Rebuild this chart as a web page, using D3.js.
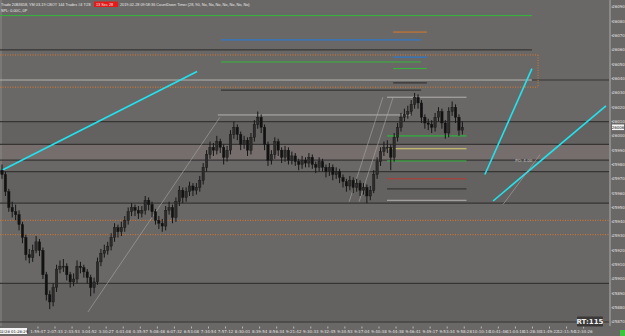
<!DOCTYPE html>
<html>
<head>
<meta charset="utf-8">
<script src="https://cdn.jsdelivr.net/npm/d3@7"></script>
<style>
    body { margin: 0; background: #6a6866; overflow: hidden; }
    svg { display: block; font-family: "DejaVu Sans", sans-serif; }
</style>
</head>
<body>
<script>
// bar data (144 tick bars), open of each bar = previous close
const firstOpen = 25976;
const closes = [25973, 25961, 25950, 25947, 25945, 25938, 25929, 25917, 25915, 25920,
    25926, 25920, 25903, 25889, 25884, 25894, 25907, 25909, 25909, 25903,
    25898, 25900, 25909, 25908, 25905, 25901, 25894, 25898, 25912, 25918,
    25920, 25923, 25929, 25936, 25933, 25936, 25941, 25947, 25950, 25948,
    25946, 25948, 25955, 25952, 25947, 25941, 25939, 25937, 25948, 25950,
    25943, 25954, 25962, 25957, 25961, 25965, 25962, 25964, 25969, 25978,
    25987, 25992, 25990, 25996, 25992, 25985, 25990, 26001, 26006, 26001,
    25994, 25997, 25990, 25999, 26008, 26013, 26006, 25994, 25983, 25987,
    25996, 25990, 25985, 25990, 25983, 25986, 25982, 25980, 25983, 25981,
    25985, 25980, 25978, 25982, 25978, 25975, 25978, 25973, 25975, 25971,
    25968, 25965, 25969, 25964, 25967, 25962, 25964, 25958, 25962, 25973,
    25982, 25989, 25992, 25992, 25985, 25999, 26006, 26013, 26015, 26017,
    26022, 26027, 26023, 26013, 26009, 26008, 26006, 26013, 26017, 26009,
    26002, 26017, 26020, 26013, 26004, 26006];
const highs = [25980, 25975, 25963, 25954, 25952, 25948, 25940, 25931, 25921, 25924,
    25930, 25928, 25922, 25905, 25892, 25897, 25910, 25913, 25914, 25911,
    25905, 25904, 25913, 25912, 25910, 25907, 25903, 25901, 25915, 25921,
    25924, 25926, 25932, 25939, 25938, 25940, 25944, 25950, 25953, 25952,
    25951, 25951, 25958, 25957, 25954, 25949, 25944, 25942, 25951, 25954,
    25952, 25957, 25965, 25964, 25964, 25968, 25967, 25967, 25972, 25981,
    25990, 25996, 25995, 26000, 25998, 25994, 25993, 26004, 26010, 26008,
    26003, 26000, 25999, 26002, 26011, 26017, 26015, 26008, 25996, 25990,
    25999, 25998, 25992, 25993, 25992, 25989, 25988, 25984, 25986, 25985,
    25988, 25987, 25982, 25985, 25984, 25980, 25981, 25980, 25978, 25977,
    25973, 25970, 25972, 25971, 25970, 25969, 25967, 25966, 25965, 25976,
    25985, 25992, 25996, 25997, 25994, 26002, 26009, 26016, 26019, 26021,
    26025, 26030, 26029, 26025, 26015, 26012, 26011, 26016, 26020, 26019,
    26011, 26020, 26024, 26022, 26015, 26010];
const lows = [25970, 25958, 25947, 25943, 25941, 25934, 25925, 25913, 25911, 25912,
    25918, 25916, 25900, 25885, 25879, 25881, 25891, 25904, 25905, 25899,
    25894, 25895, 25897, 25904, 25901, 25897, 25888, 25890, 25896, 25909,
    25915, 25917, 25920, 25926, 25929, 25930, 25933, 25938, 25944, 25944,
    25942, 25943, 25945, 25948, 25943, 25938, 25935, 25933, 25934, 25945,
    25939, 25940, 25951, 25953, 25954, 25958, 25958, 25959, 25961, 25966,
    25975, 25984, 25986, 25987, 25988, 25980, 25982, 25987, 25998, 25997,
    25990, 25991, 25986, 25987, 25996, 26005, 26002, 25990, 25979, 25980,
    25984, 25986, 25981, 25982, 25980, 25980, 25979, 25976, 25977, 25978,
    25978, 25977, 25974, 25975, 25975, 25971, 25972, 25969, 25970, 25967,
    25964, 25961, 25962, 25960, 25961, 25958, 25959, 25953, 25955, 25960,
    25970, 25979, 25986, 25988, 25976, 25982, 25996, 26003, 26010, 26012,
    26014, 26019, 26019, 26009, 26005, 26004, 26002, 26003, 26010, 26005,
    25998, 25999, 26014, 26009, 26000, 26001];

const priceTicks = [26090, 26080, 26070, 26060, 26050, 26040, 26030, 26020, 26010, 26000,
    25990, 25980, 25970, 25960, 25950, 25940, 25930, 25920, 25910, 25900,
    25890, 25880, 25870];
const timeLabels = ["1:59:47", "2:07:33", "2:33:53", "3:04:52", "3:30:27", "4:01:08", "4:35:57",
    "5:08:48", "6:07:32", "6:53:08", "7:34:54", "7:57:12", "8:30:01", "8:39:54", "8:56:34",
    "9:21:42", "9:30:33", "9:32:45", "9:34:53", "9:37:04", "9:40:38", "9:44:38", "9:46:41",
    "9:49:17", "9:53:34", "9:58:28", "10:10:14", "10:41:46", "11:04:18", "11:28:30",
    "11:49:22", "12:11:54", "12:34:26"];
const firstLabelBar = 10.55;
const barsPerLabel = 5;

// horizontal levels: [kind, price, fromBar, toBar]
const levels = [
    ["green", 26084, 0, 155.4],
    ["dark", 26060, 0, 155.4],
    ["orange", 26072.5, 114.7, 124.6],
    ["blue", 26067, 64.2, 122.9],
    ["blue", 26055, 114.7, 124.6],
    ["green", 26051.6, 64.2, 122.9],
    ["green", 26047, 114.7, 124.6],
    ["light", 26039, 0, 155.4],
    ["dark", 26039, 155.4, 178],
    ["dark", 26037, 114.7, 124.6],
    ["dark", 26032, 64.2, 122.9],
    ["light", 26027, 112.9, 136.2],
    ["light", 26014.6, 63.3, 120.2],
    ["dark", 26010, 0, 178],
    ["green2", 26000, 112.9, 136.2],
    ["dark", 25994, 0, 178],
    ["yellow", 25991, 112.9, 136.2],
    ["dark", 25983, 0, 178],
    ["green", 25982.5, 112.9, 136.2],
    ["dark", 25975, 0, 178],
    ["red", 25970, 112.9, 136.2],
    ["dark", 25963, 112.9, 136.2],
    ["light", 25955, 112.9, 136.2],
    ["dark", 25953, 0, 178],
    ["dark", 25897, 0, 178],
    ["dark", 25870, 0, 178]
];
const dottedLevels = [26056.5, 26034, 25941, 25931];
const dottedEnds = [157.2, 157.2, 178, 178];

// zones: [top price, bottom price, kind]
const zones = [
    [26010, 25994, "dim"],
    [25994, 25983, "pink"],
    [25975, 25953, "dim"],
    [25897, 25870, "dim"]
];

// drawn lines: [kind, bar0, price0, bar1, price1]
const trendLines = [
    ["cyan", 0, 25976, 57.2, 26045],
    ["cyan", 141.6, 25973, 155.4, 26047],
    ["cyan", 144, 25954.5, 177.1, 26021],
    ["thin", 146.9, 25952, 157.8, 25987],
    ["thin", 25.2, 25877, 63.9, 26013],
    ["thin", 101.8, 25954, 111.7, 26027],
    ["thin", 104.7, 25954, 114.7, 26027]
];
const lastPrice = 26006;

const levelStyle = {
    green: { c: "#33b83a", w: 1 },
    green2: { c: "#3f9a48", w: 1.6 },
    dark: { c: "#363534", w: 1.2 },
    light: { c: "#b4b2b0", w: 1 },
    orange: { c: "#d9782a", w: 1 },
    blue: { c: "#2f78c8", w: 1.2 },
    yellow: { c: "#d8d070", w: 1 },
    red: { c: "#b83a30", w: 1 }
};
const zoneFill = { dim: "#646260", pink: "#756e6d" };

const W = 625, H = 336;
const svg = d3.select("body").append("svg").attr("width", W).attr("height", H);

const x = d3.scaleLinear().domain([0, 178]).range([2, 609]);
const y = d3.scaleLinear().domain([25870, 26090]).range([322, 7]);

svg.append("rect").attr("width", W).attr("height", H).attr("fill", "#6a6866");

const plot = svg.append("g");
plot.append("clipPath").attr("id", "clip")
    .append("rect").attr("x", 0).attr("y", 0).attr("width", 609).attr("height", 326);
const g = plot.append("g").attr("clip-path", "url(#clip)");

g.selectAll(".zone").data(zones).enter().append("rect")
    .attr("x", x(0) - 2).attr("width", x(178) - x(0) + 2)
    .attr("y", d => y(d[0])).attr("height", d => y(d[1]) - y(d[0]))
    .attr("fill", d => zoneFill[d[2]]);

// left border
g.append("line").attr("x1", 1).attr("x2", 1).attr("y1", 0).attr("y2", 326)
    .attr("stroke", "#8a8886").attr("stroke-width", 1);

g.selectAll(".lvl").data(levels).enter().append("line")
    .attr("x1", d => d[2] === 0 ? 0 : x(d[2])).attr("x2", d => x(d[3]))
    .attr("y1", d => y(d[1])).attr("y2", d => y(d[1]))
    .attr("stroke", d => levelStyle[d[0]].c)
    .attr("stroke-width", d => levelStyle[d[0]].w);

g.selectAll(".dot").data(dottedLevels).enter().append("line")
    .attr("x1", 0).attr("x2", (d, i) => x(dottedEnds[i]))
    .attr("y1", d => y(d)).attr("y2", d => y(d))
    .attr("stroke", "#d9782a").attr("stroke-width", 1).attr("stroke-dasharray", "1,1.5");
g.append("line")
    .attr("x1", x(dottedEnds[0])).attr("x2", x(dottedEnds[0]))
    .attr("y1", y(dottedLevels[0])).attr("y2", y(dottedLevels[1]))
    .attr("stroke", "#d9782a").attr("stroke-width", 1).attr("stroke-dasharray", "1,1.5");

g.selectAll(".trend").data(trendLines).enter().append("line")
    .attr("x1", d => x(d[1])).attr("y1", d => y(d[2]))
    .attr("x2", d => x(d[3])).attr("y2", d => y(d[4]))
    .attr("stroke", d => d[0] === "cyan" ? "#22e2ee" : "#a9a7a5")
    .attr("stroke-width", d => d[0] === "cyan" ? 1.6 : 0.6);

g.append("text").attr("x", x(150.5)).attr("y", y(25983) + 1.5)
    .attr("font-size", 4).attr("fill", "#c8c6c4").text("PO: 4.00");

// candles
const bars = closes.map((c, i) => ({
    i: i,
    o: i === 0 ? firstOpen : closes[i - 1],
    c: c,
    h: highs[i],
    l: lows[i]
}));
const cg = g.append("g");
cg.selectAll(".wick").data(bars).enter().append("line")
    .attr("x1", d => x(d.i)).attr("x2", d => x(d.i))
    .attr("y1", d => y(d.h)).attr("y2", d => y(d.l))
    .attr("stroke", "#161616").attr("stroke-width", 1);
cg.selectAll(".body").data(bars).enter().append("rect")
    .attr("x", d => x(d.i) - 1.2).attr("width", 2.4)
    .attr("y", d => y(Math.max(d.o, d.c)))
    .attr("height", d => Math.max(1, Math.abs(y(d.o) - y(d.c))))
    .attr("fill", d => d.c >= d.o ? "#2e2d2c" : "#121212")
    .attr("stroke", "#161616").attr("stroke-width", 0.4);

// header text
const hdr = svg.append("g").attr("font-size", 3.8).attr("fill", "#e8e8e8")
    .style("font-family", "'Liberation Sans', sans-serif");
hdr.append("text").attr("x", 1).attr("y", 5.5)
    .text("Trade 20B3658, YM 03-19 CBOT 144 Trades #4 T:28");
hdr.append("rect").attr("x", 94).attr("y", 1.5).attr("width", 24).attr("height", 5.5).attr("fill", "#e41a1a");
hdr.append("text").attr("x", 96).attr("y", 5.6).text("13 Sec  28");
hdr.append("text").attr("x", 120).attr("y", 5.5)
    .text("2019-02-28 09:58:36 CountDown Timer  (28, 90, No, No, No, No, No, No, No)");
hdr.append("text").attr("x", 1).attr("y", 11.5).text("SPL: 0.00C, 0P");

// price axis
svg.append("rect").attr("x", 609).attr("y", 0).attr("width", 2).attr("height", 326).attr("fill", "#8c8a88");
const pa = svg.append("g").attr("font-size", 4).attr("fill", "#e0e0e0");
pa.selectAll(".pt").data(priceTicks).enter().append("line")
    .attr("x1", 611.5).attr("x2", 613).attr("y1", d => y(d)).attr("y2", d => y(d))
    .attr("stroke", "#d0d0d0").attr("stroke-width", 0.8);
pa.selectAll(".pl").data(priceTicks).enter().append("text")
    .attr("x", 618.5).attr("y", d => y(d) + 1.4).attr("text-anchor", "middle")
    .text(d => d);
svg.append("rect").attr("x", 612).attr("y", y(lastPrice) - 2.8).attr("width", 12).attr("height", 5.6)
    .attr("fill", "#f4f4f4");
svg.append("text").attr("x", 618).attr("y", y(lastPrice) + 1.4).attr("text-anchor", "middle")
    .attr("font-size", 4).attr("fill", "#222").text(lastPrice);

// time axis
const ta = svg.append("g").attr("font-size", 4).attr("fill", "#e0e0e0");
ta.selectAll(".tt").data(timeLabels).enter().append("line")
    .attr("x1", (d, i) => x(firstLabelBar + i * barsPerLabel))
    .attr("x2", (d, i) => x(firstLabelBar + i * barsPerLabel))
    .attr("y1", 326.5).attr("y2", 328.5).attr("stroke", "#d0d0d0").attr("stroke-width", 0.8);
ta.selectAll(".tl").data(timeLabels).enter().append("text")
    .attr("x", (d, i) => x(firstLabelBar + i * barsPerLabel))
    .attr("y", 332.5).attr("text-anchor", "middle").text(d => d);
svg.append("rect").attr("x", 0).attr("y", 328).attr("width", 27).attr("height", 6).attr("fill", "#f4f4f4");
svg.append("text").attr("x", 13.5).attr("y", 332.5).attr("text-anchor", "middle")
    .attr("font-size", 3.8).attr("fill", "#222").text("02/28 01:28:29");

// RT box
svg.append("rect").attr("x", 577).attr("y", 316.5).attr("width", 26).attr("height", 10).attr("rx", 1)
    .attr("fill", "#3a3938");
svg.append("text").attr("x", 590).attr("y", 324.3).attr("text-anchor", "middle")
    .attr("font-size", 7).attr("font-weight", "bold").attr("fill", "#f0f0f0").text("RT:115");

svg.append("rect").attr("x", 620).attr("y", 330).attr("width", 5).attr("height", 6).attr("fill", "#3cc43c");
</script>
</body>
</html>
